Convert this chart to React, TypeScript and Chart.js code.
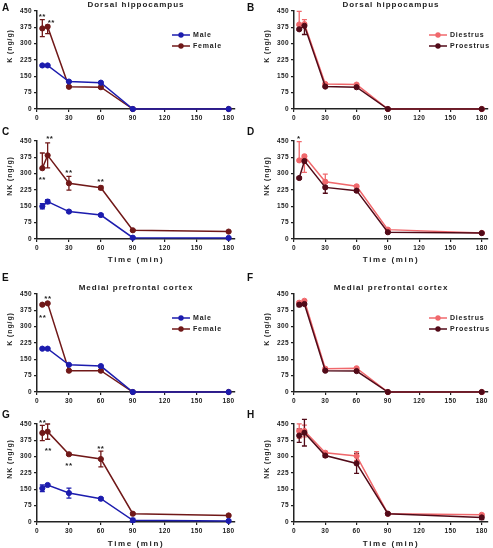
import { useEffect, useRef } from "react";
import { Chart, registerables } from "chart.js";

Chart.register(...registerables);

// ---------- shared axes ----------
const timePoints = [5, 10, 30, 60, 90, 180];
const xTickValues = [0, 30, 60, 90, 120, 150, 180];
const yTickValues = [0, 75, 150, 225, 300, 375, 450];

// ---------- colours ----------
const MALE = "#1c1cae";
const FEMALE = "#701818";
const DIESTRUS = "#f0686c";
const PROESTRUS = "#520a18";
const INK = "#222222";
const FONT = "'Liberation Sans', Arial, Helvetica, sans-serif";

// ---------- A: Dorsal hippocampus, K, sex ----------
const aMale = [200, 200, 126, 121, 0, 0];
const aMaleUp = [3, 3, 3, 3, 0, 0];
const aMaleDown = [3, 3, 3, 3, 0, 0];
const aFemale = [370, 378, 102, 100, 0, 0];
const aFemaleUp = [40, 6, 4, 4, 0, 0];
const aFemaleDown = [38, 32, 4, 4, 0, 0];
const aStars = [
  { x: 5, y: 432, text: "**" },
  { x: 13.5, y: 405, text: "**" },
];

// ---------- B: Dorsal hippocampus, K, cycle ----------
const bDiestrus = [388, 390, 115, 112, 0, 0];
const bDiestrusUp = [60, 20, 4, 4, 0, 0];
const bDiestrusDown = [5, 5, 4, 4, 0, 0];
const bProestrus = [366, 382, 103, 100, 0, 0];
const bProestrusUp = [5, 5, 3, 3, 0, 0];
const bProestrusDown = [5, 40, 3, 3, 0, 0];
const bStars: { x: number; y: number; text: string }[] = [];

// ---------- C: Dorsal hippocampus, NK, sex ----------
const cMale = [150, 172, 126, 110, 6, 5];
const cMaleUp = [12, 9, 5, 5, 3, 3];
const cMaleDown = [12, 9, 5, 5, 3, 3];
const cFemale = [325, 384, 256, 235, 40, 34];
const cFemaleUp = [70, 57, 32, 8, 3, 3];
const cFemaleDown = [0, 57, 32, 8, 3, 3];
const cStars = [
  { x: 5, y: 280, text: "**" },
  { x: 12, y: 466, text: "**" },
  { x: 30, y: 309, text: "**" },
  { x: 60, y: 268, text: "**" },
];

// ---------- D: Dorsal hippocampus, NK, cycle ----------
const dDiestrus = [361, 380, 263, 242, 43, 28];
const dDiestrusUp = [86, 6, 35, 5, 3, 3];
const dDiestrusDown = [0, 74, 8, 5, 3, 3];
const dProestrus = [280, 358, 237, 222, 31, 27];
const dProestrusUp = [5, 8, 5, 5, 3, 3];
const dProestrusDown = [5, 8, 27, 5, 3, 3];
const dStars = [{ x: 4.7, y: 468, text: "*" }];

// ---------- E: Medial prefrontal cortex, K, sex ----------
const eMale = [199, 199, 125, 119, 0, 0];
const eMaleUp = [3, 3, 3, 3, 0, 0];
const eMaleDown = [3, 3, 3, 3, 0, 0];
const eFemale = [401, 407, 98, 98, 0, 0];
const eFemaleUp = [4, 4, 4, 4, 0, 0];
const eFemaleDown = [4, 4, 4, 4, 0, 0];
const eStars = [
  { x: 5.3, y: 349, text: "**" },
  { x: 10.3, y: 435, text: "**" },
];

// ---------- F: Medial prefrontal cortex, K, cycle ----------
const fDiestrus = [410, 419, 107, 109, 0, 0];
const fDiestrusUp = [6, 5, 4, 4, 0, 0];
const fDiestrusDown = [6, 5, 4, 4, 0, 0];
const fProestrus = [401, 404, 98, 96, 0, 0];
const fProestrusUp = [9, 6, 3, 3, 0, 0];
const fProestrusDown = [9, 6, 3, 3, 0, 0];
const fStars: { x: number; y: number; text: string }[] = [];

// ---------- G: Medial prefrontal cortex, NK, sex ----------
const gMale = [155, 170, 133, 107, 8, 5];
const gMaleUp = [15, 5, 23, 5, 8, 5];
const gMaleDown = [15, 5, 23, 5, 8, 5];
const gFemale = [409, 415, 311, 289, 38, 30];
const gFemaleUp = [35, 35, 5, 36, 4, 4];
const gFemaleDown = [35, 35, 5, 36, 4, 4];
const gStars = [
  { x: 5.3, y: 464, text: "**" },
  { x: 10.6, y: 334, text: "**" },
  { x: 30, y: 265, text: "**" },
  { x: 60, y: 344, text: "**" },
];

// ---------- H: Medial prefrontal cortex, NK, cycle ----------
const hDiestrus = [418, 418, 318, 303, 38, 33];
const hDiestrusUp = [33, 27, 6, 20, 4, 5];
const hDiestrusDown = [33, 27, 6, 20, 4, 5];
const hProestrus = [397, 410, 305, 269, 38, 21];
const hProestrusUp = [31, 61, 8, 46, 4, 10];
const hProestrusDown = [31, 61, 8, 46, 4, 10];
const hStars: { x: number; y: number; text: string }[] = [];

// ---------- types ----------
type Series = {
  label: string;
  values: number[];
  up: number[];
  down: number[];
  color: string;
  order: number;
};
type Star = { x: number; y: number; text: string };
type PanelSpec = {
  letter: string;
  title?: string;
  yTitle: string;
  xTitle?: string;
  legend: boolean;
  series: Series[];
  stars: Star[];
  left: number;
  top: number;
  width: number;
  height: number;
  padTop: number;
  padRight: number;
  xAxisH: number;
};

const sexSeries = (m: number[], mu: number[], md: number[], f: number[], fu: number[], fd: number[]): Series[] => [
  { label: "Male", values: m, up: mu, down: md, color: MALE, order: 1 },
  { label: "Female", values: f, up: fu, down: fd, color: FEMALE, order: 2 },
];
const cycleSeries = (d: number[], du: number[], dd: number[], p: number[], pu: number[], pd: number[]): Series[] => [
  { label: "Diestrus", values: d, up: du, down: dd, color: DIESTRUS, order: 2 },
  { label: "Proestrus", values: p, up: pu, down: pd, color: PROESTRUS, order: 1 },
];

const LEFT_X = 0;
const LEFT_W = 246;
const LEFT_PR = 11;
const RIGHT_X = 257;
const RIGHT_W = 236;
const RIGHT_PR = 1;

const rows = [
  { top: 0, height: 128, padTop: 11, xAxisH: 19 },
  { top: 128, height: 140, padTop: 13, xAxisH: 29 },
  { top: 268, height: 142, padTop: 26, xAxisH: 18 },
  { top: 410, height: 142, padTop: 14, xAxisH: 30 },
];

const panels: PanelSpec[] = [
  {
    letter: "A", title: "Dorsal hippocampus", yTitle: "K (ng/g)", legend: true,
    series: sexSeries(aMale, aMaleUp, aMaleDown, aFemale, aFemaleUp, aFemaleDown), stars: aStars,
    left: LEFT_X, width: LEFT_W, padRight: LEFT_PR, ...rows[0],
  },
  {
    letter: "B", title: "Dorsal hippocampus", yTitle: "K (ng/g)", legend: true,
    series: cycleSeries(bDiestrus, bDiestrusUp, bDiestrusDown, bProestrus, bProestrusUp, bProestrusDown), stars: bStars,
    left: RIGHT_X, width: RIGHT_W, padRight: RIGHT_PR, ...rows[0],
  },
  {
    letter: "C", yTitle: "NK (ng/g)", xTitle: "Time (min)", legend: false,
    series: sexSeries(cMale, cMaleUp, cMaleDown, cFemale, cFemaleUp, cFemaleDown), stars: cStars,
    left: LEFT_X, width: LEFT_W, padRight: LEFT_PR, ...rows[1],
  },
  {
    letter: "D", yTitle: "NK (ng/g)", xTitle: "Time (min)", legend: false,
    series: cycleSeries(dDiestrus, dDiestrusUp, dDiestrusDown, dProestrus, dProestrusUp, dProestrusDown), stars: dStars,
    left: RIGHT_X, width: RIGHT_W, padRight: RIGHT_PR, ...rows[1],
  },
  {
    letter: "E", title: "Medial prefrontal cortex", yTitle: "K (ng/g)", legend: true,
    series: sexSeries(eMale, eMaleUp, eMaleDown, eFemale, eFemaleUp, eFemaleDown), stars: eStars,
    left: LEFT_X, width: LEFT_W, padRight: LEFT_PR, ...rows[2],
  },
  {
    letter: "F", title: "Medial prefrontal cortex", yTitle: "K (ng/g)", legend: true,
    series: cycleSeries(fDiestrus, fDiestrusUp, fDiestrusDown, fProestrus, fProestrusUp, fProestrusDown), stars: fStars,
    left: RIGHT_X, width: RIGHT_W, padRight: RIGHT_PR, ...rows[2],
  },
  {
    letter: "G", yTitle: "NK (ng/g)", xTitle: "Time (min)", legend: false,
    series: sexSeries(gMale, gMaleUp, gMaleDown, gFemale, gFemaleUp, gFemaleDown), stars: gStars,
    left: LEFT_X, width: LEFT_W, padRight: LEFT_PR, ...rows[3],
  },
  {
    letter: "H", yTitle: "NK (ng/g)", xTitle: "Time (min)", legend: false,
    series: cycleSeries(hDiestrus, hDiestrusUp, hDiestrusDown, hProestrus, hProestrusUp, hProestrusDown), stars: hStars,
    left: RIGHT_X, width: RIGHT_W, padRight: RIGHT_PR, ...rows[3],
  },
];

function makeExtras(spec: PanelSpec) {
  return {
    id: "prismExtras" + spec.letter,
    beforeDraw(chart: any) {
      const ctx = chart.ctx;
      ctx.letterSpacing = "0.4px";
      Object.values(chart.scales).forEach((s: any) => {
        if (s.__patched) return;
        const orig = s.drawTitle;
        s.drawTitle = function () {
          const c = this.ctx;
          c.save();
          c.letterSpacing = this.axis === "x" ? "1.6px" : "0.9px";
          if (this.axis === "y") c.translate(0, -14);
          orig.call(this);
          c.restore();
        };
        s.__patched = true;
      });
    },
    beforeDatasetsDraw(chart: any) {
      const ctx = chart.ctx;
      const xs = chart.scales.x;
      const ys = chart.scales.y;
      const ordered = [...spec.series].sort((a, b) => b.order - a.order);
      ordered.forEach((s) => {
        ctx.save();
        ctx.strokeStyle = s.color;
        ctx.lineWidth = 1.3;
        timePoints.forEach((t, i) => {
          const v = s.values[i];
          const up = s.up[i];
          const dn = s.down[i];
          if (up <= 1 && dn <= 1) return;
          const px = xs.getPixelForValue(t);
          const pv = ys.getPixelForValue(v);
          const pHi = ys.getPixelForValue(v + up);
          const pLo = ys.getPixelForValue(v - dn);
          ctx.beginPath();
          ctx.moveTo(px, pHi);
          ctx.lineTo(px, pLo);
          if (up > 1) {
            ctx.moveTo(px - 2.5, pHi);
            ctx.lineTo(px + 2.5, pHi);
          }
          if (dn > 1) {
            ctx.moveTo(px - 2.5, pLo);
            ctx.lineTo(px + 2.5, pLo);
          }
          ctx.stroke();
          void pv;
        });
        ctx.restore();
      });
    },
    afterDraw(chart: any) {
      const ctx = chart.ctx;
      const area = chart.chartArea;
      const xs = chart.scales.x;
      const ys = chart.scales.y;
      ctx.save();
      ctx.fillStyle = INK;
      ctx.textBaseline = "middle";
      // title
      if (spec.title) {
        ctx.letterSpacing = "1px";
        ctx.font = `bold 8px ${FONT}`;
        ctx.textAlign = "center";
        ctx.fillText(spec.title, (area.left + area.right) / 2, area.top - 6.5);
      }
      // significance marks
      ctx.letterSpacing = "0.5px";
      ctx.font = `bold 8px ${FONT}`;
      ctx.textAlign = "center";
      spec.stars.forEach((st) => {
        ctx.fillText(st.text, xs.getPixelForValue(st.x), ys.getPixelForValue(st.y) + 1.5);
      });
      // legend
      if (spec.legend) {
        ctx.letterSpacing = "0.8px";
        ctx.font = `bold 7px ${FONT}`;
        ctx.textAlign = "left";
        spec.series.forEach((s, i) => {
          const y = area.top + 24 + i * 11;
          const x0 = area.left + 135;
          ctx.strokeStyle = s.color;
          ctx.lineWidth = 1.5;
          ctx.beginPath();
          ctx.moveTo(x0, y);
          ctx.lineTo(x0 + 18, y);
          ctx.stroke();
          ctx.fillStyle = s.color;
          ctx.beginPath();
          ctx.arc(x0 + 9, y, 2.7, 0, Math.PI * 2);
          ctx.fill();
          ctx.fillStyle = INK;
          ctx.fillText(s.label, x0 + 21, y + 0.5);
        });
      }
      ctx.restore();
    },
  };
}

function buildConfig(spec: PanelSpec): any {
  const tickFont = { family: FONT, size: 6.5, weight: "bold" as const };
  return {
    type: "line",
    data: {
      datasets: spec.series.map((s) => ({
        label: s.label,
        data: timePoints.map((t, i) => ({ x: t, y: s.values[i] })),
        borderColor: s.color,
        backgroundColor: s.color,
        pointBackgroundColor: s.color,
        pointBorderColor: s.color,
        pointRadius: 2.6,
        pointBorderWidth: 1,
        borderWidth: 1.5,
        tension: 0,
        order: s.order,
        clip: false,
      })),
    },
    options: {
      animation: false,
      responsive: false,
      maintainAspectRatio: false,
      events: [],
      layout: { padding: { top: spec.padTop, right: spec.padRight, left: 0, bottom: 0 } },
      plugins: {
        legend: { display: false },
        tooltip: { enabled: false },
        title: { display: false },
      },
      scales: {
        x: {
          type: "linear",
          min: 0,
          max: 186,
          offset: false,
          afterBuildTicks: (s: any) => {
            s.ticks = xTickValues.map((v) => ({ value: v }));
          },
          afterFit: (s: any) => {
            s.height = spec.xAxisH;
          },
          ticks: { font: tickFont, color: INK, padding: 2, maxRotation: 0, autoSkip: false },
          grid: { drawOnChartArea: false, drawTicks: true, tickLength: 3, color: INK, lineWidth: 1.2 },
          border: { display: true, color: INK, width: 1.5 },
          title: {
            display: !!spec.xTitle,
            text: spec.xTitle || "",
            color: INK,
            font: { family: FONT, size: 8, weight: "bold" },
            padding: { top: 0, bottom: 3 },
          },
        },
        y: {
          type: "linear",
          min: 0,
          max: 450,
          afterBuildTicks: (s: any) => {
            s.ticks = yTickValues.map((v) => ({ value: v }));
          },
          afterFit: (s: any) => {
            s.width = 37;
          },
          ticks: { font: tickFont, color: INK, padding: 2, autoSkip: false },
          grid: { drawOnChartArea: false, drawTicks: true, tickLength: 3, color: INK, lineWidth: 1.2 },
          border: { display: true, color: INK, width: 1.5 },
          title: {
            display: true,
            text: spec.yTitle,
            color: INK,
            font: { family: FONT, size: 7, weight: "bold" },
            padding: { top: 6, bottom: 0 },
          },
        },
      },
    },
    plugins: [makeExtras(spec)],
  };
}

function Panel({ spec }: { spec: PanelSpec }) {
  const ref = useRef<HTMLCanvasElement>(null);
  useEffect(() => {
    const canvas = ref.current;
    if (!canvas) return;
    const chart = new Chart(canvas, buildConfig(spec));
    return () => chart.destroy();
  }, [spec]);
  return (
    <canvas
      ref={ref}
      width={spec.width}
      height={spec.height}
      style={{
        position: "absolute",
        left: spec.left,
        top: spec.top,
        width: spec.width,
        height: spec.height,
      }}
    />
  );
}

const letterPos = [
  { letter: "A", x: 2, y: 7.5 },
  { letter: "B", x: 247, y: 7.5 },
  { letter: "C", x: 2, y: 132 },
  { letter: "D", x: 247, y: 132 },
  { letter: "E", x: 2, y: 278 },
  { letter: "F", x: 247, y: 278 },
  { letter: "G", x: 2, y: 415 },
  { letter: "H", x: 247, y: 415 },
];

export default function App() {
  return (
    <div
      style={{
        position: "fixed",
        left: 0,
        top: 0,
        width: 493,
        height: 548,
        overflow: "hidden",
        background: "#ffffff",
      }}
    >
      {panels.map((p) => (
        <Panel key={p.letter} spec={p} />
      ))}
      {letterPos.map((l) => (
        <div
          key={l.letter}
          style={{
            position: "absolute",
            left: l.x,
            top: l.y - 6,
            height: 12,
            lineHeight: "12px",
            fontFamily: FONT,
            fontWeight: "bold",
            fontSize: 10,
            color: "#111",
          }}
        >
          {l.letter}
        </div>
      ))}
    </div>
  );
}
